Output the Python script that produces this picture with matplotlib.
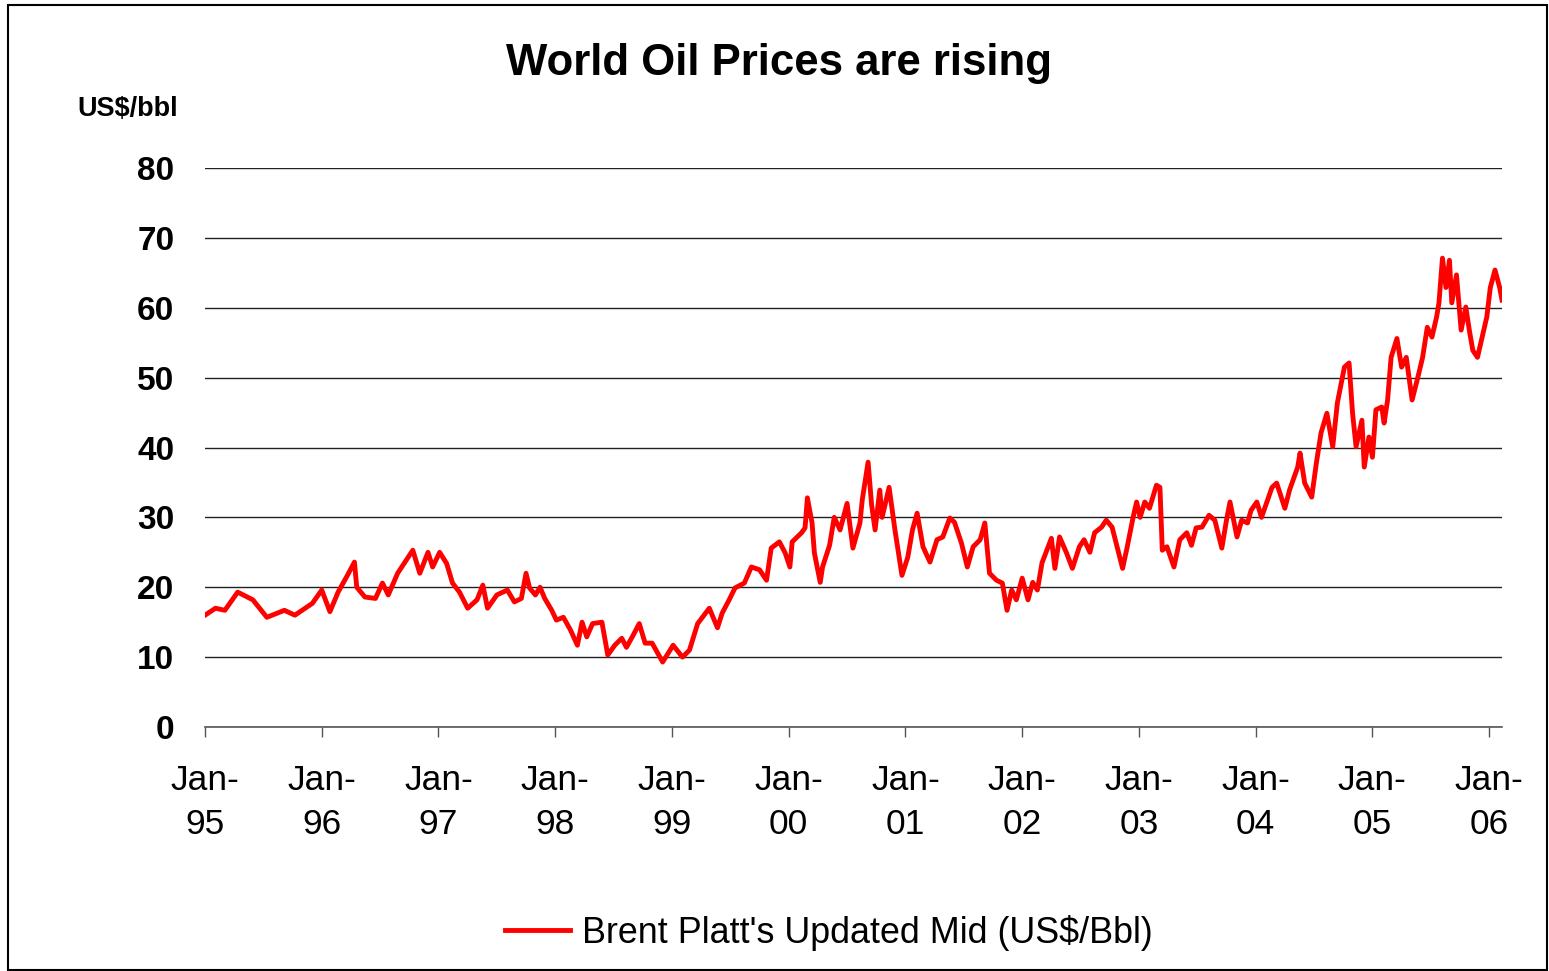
import matplotlib
matplotlib.use("Agg")
import matplotlib.pyplot as plt
from matplotlib.patches import Rectangle

plt.rcParams['font.family'] = ['Liberation Sans', 'DejaVu Sans']

# Brent price (decimal year, US$/bbl)
years = [
    1995.00, 1995.09, 1995.17, 1995.28, 1995.41, 1995.53, 1995.68, 1995.77, 1995.92,
    1996.00, 1996.07, 1996.14, 1996.22, 1996.28, 1996.30, 1996.37, 1996.46, 1996.52,
    1996.57, 1996.65, 1996.78, 1996.84, 1996.91, 1996.95, 1997.01, 1997.07, 1997.12,
    1997.18, 1997.25, 1997.33, 1997.38, 1997.42, 1997.50, 1997.59, 1997.65, 1997.71,
    1997.75, 1997.78, 1997.83, 1997.87, 1997.91, 1997.97, 1998.01, 1998.07, 1998.13,
    1998.19, 1998.23, 1998.27, 1998.32, 1998.40, 1998.45, 1998.51, 1998.57, 1998.61,
    1998.66, 1998.72, 1998.77, 1998.83, 1998.92, 1999.01, 1999.09, 1999.15, 1999.22,
    1999.32, 1999.39, 1999.43, 1999.49, 1999.54, 1999.62, 1999.68, 1999.75, 1999.81,
    1999.85, 1999.92, 1999.97, 2000.01, 2000.03, 2000.11, 2000.14, 2000.16, 2000.20,
    2000.22, 2000.27, 2000.29, 2000.35, 2000.39, 2000.44, 2000.50, 2000.55, 2000.61,
    2000.63, 2000.68, 2000.71, 2000.74, 2000.78, 2000.80, 2000.86, 2000.91, 2000.97,
    2001.02, 2001.06, 2001.10, 2001.15, 2001.21, 2001.27, 2001.32, 2001.38, 2001.42,
    2001.48, 2001.53, 2001.58, 2001.64, 2001.68, 2001.72, 2001.78, 2001.83, 2001.87,
    2001.91, 2001.95, 2002.00, 2002.05, 2002.09, 2002.13, 2002.17, 2002.25, 2002.28,
    2002.32, 2002.38, 2002.43, 2002.49, 2002.53, 2002.58, 2002.62, 2002.68, 2002.72,
    2002.77, 2002.82, 2002.86, 2002.90, 2002.95, 2002.98, 2003.01, 2003.05, 2003.09,
    2003.15, 2003.18, 2003.20, 2003.24, 2003.30, 2003.35, 2003.41, 2003.45, 2003.49,
    2003.54, 2003.60, 2003.65, 2003.71, 2003.75, 2003.78, 2003.84, 2003.88, 2003.93,
    2003.96, 2004.01, 2004.05, 2004.14, 2004.18, 2004.25, 2004.29, 2004.36, 2004.38,
    2004.42, 2004.48, 2004.52, 2004.56, 2004.61, 2004.66, 2004.70, 2004.76, 2004.80,
    2004.83, 2004.86, 2004.91, 2004.93, 2004.97, 2005.00, 2005.03, 2005.08, 2005.10,
    2005.13, 2005.16, 2005.21, 2005.25, 2005.29, 2005.32, 2005.34, 2005.39, 2005.43,
    2005.47, 2005.51, 2005.55, 2005.57, 2005.60, 2005.63, 2005.66, 2005.68, 2005.72,
    2005.76, 2005.80, 2005.83, 2005.86, 2005.90, 2005.94, 2005.98, 2006.01, 2006.05,
    2006.09, 2006.11,
]
prices = [
    16.0, 17.0, 16.7, 19.3, 18.2, 15.7, 16.7, 16.0, 17.7,
    19.6, 16.5, 19.3, 21.7, 23.6, 20.0, 18.6, 18.4, 20.6,
    18.9, 22.0, 25.3, 22.0, 25.0, 22.9, 25.0, 23.4, 20.6,
    19.3, 17.0, 18.2, 20.3, 17.0, 18.9, 19.6, 17.9, 18.4,
    22.0, 19.9, 18.9, 20.0, 18.4, 16.7, 15.3, 15.7, 13.9,
    11.7, 15.0, 12.9, 14.8, 15.0, 10.3, 11.7, 12.7, 11.4,
    12.9, 14.8, 12.0, 12.0, 9.3, 11.7, 10.0, 11.0, 14.8,
    17.0, 14.2, 16.3, 18.2, 19.9, 20.6, 22.9, 22.5, 21.0,
    25.6, 26.5, 24.9, 22.9, 26.5, 27.8, 28.5, 32.8, 29.2,
    24.9, 20.7, 22.9, 26.0, 30.0, 28.2, 32.0, 25.6, 29.2,
    32.5, 37.9, 31.8, 28.2, 33.9, 30.0, 34.3, 28.2, 21.7,
    24.3, 28.2, 30.6, 25.8, 23.6, 26.8, 27.2, 29.9, 29.3,
    26.3, 22.9, 25.8, 26.8, 29.2, 22.0, 21.0, 20.6, 16.7,
    19.6, 18.2, 21.3, 18.2, 20.7, 19.6, 23.5, 27.0, 22.7,
    27.2, 24.9, 22.7, 25.8, 26.8, 25.0, 27.8, 28.6, 29.6,
    28.6, 25.3, 22.7, 25.8, 30.0, 32.2, 30.0, 32.2, 31.3,
    34.6, 34.3, 25.3, 25.8, 22.9, 26.8, 27.8, 26.0, 28.5,
    28.6, 30.3, 29.6, 25.6, 29.6, 32.2, 27.2, 29.6, 29.2,
    31.0, 32.2, 30.0, 34.3, 34.9, 31.3, 33.9, 37.2, 39.2,
    34.9, 32.9, 37.8, 42.1, 44.9, 40.1, 46.4, 51.5, 52.1,
    44.9, 40.1, 43.9, 37.2, 41.5, 38.6, 45.4, 45.8, 43.5,
    46.8, 52.9, 55.6, 51.5, 52.9, 49.2, 46.8, 50.1, 52.9,
    57.2, 55.8, 58.7, 60.7, 67.1, 62.9, 66.8, 60.7, 64.7,
    56.8, 60.1, 56.8, 53.9, 52.9, 55.8, 58.7, 62.9, 65.4,
    62.9, 61.1,
]

tick_years = list(range(1995, 2007))
tick_labels = ["Jan-\n%02d" % (y % 100) for y in tick_years]
y_ticks = list(range(0, 90, 10))

fig = plt.figure(figsize=(15.49, 9.71), dpi=100)
W, H = 1549, 971

# outer chart frame
fig.patches.append(Rectangle((8 / W, 1 - 970 / H), 1539 / W, 965 / H,
                             transform=fig.transFigure, fill=False,
                             edgecolor='black', linewidth=1.5))

ax = fig.add_axes([205 / W, 1 - 727 / H, 1297 / W, 559 / H])
ax.plot(years, prices, color='#FF0000', linewidth=3.5,
        label="Brent Platt's Updated Mid (US$/Bbl)")

ax.set_xlim(1995.0, 2006.11)
ax.set_ylim(0, 80)
ax.set_yticks(y_ticks)
ax.set_yticklabels([str(v) for v in y_ticks], fontsize=24, fontweight='bold')
ax.set_xticks(tick_years)
ax.set_xticklabels(tick_labels, fontsize=25.5, linespacing=1.42)
ax.tick_params(axis='y', length=0, pad=22)
ax.tick_params(axis='x', length=7, width=1, color='#555555', pad=20)
ax.grid(axis='y', color='#222222', linewidth=1)
for s in ['left', 'right', 'top']:
    ax.spines[s].set_visible(False)
ax.spines['bottom'].set_color('#555555')
ax.spines['bottom'].set_linewidth(1.2)

fig.text(779 / W, 1 - 64 / H, "World Oil Prices are rising", fontsize=31.5,
         fontweight='bold', ha='center', va='center')
fig.text(178 / W, 1 - 109 / H, "US$/bbl", fontsize=19.5, fontweight='bold',
         ha='right', va='center')

fig.legend(loc='center', bbox_to_anchor=(829 / W, 1 - 933 / H), frameon=False,
           fontsize=25.8, handlelength=1.8, handletextpad=0.35)

fig.savefig("out.png", dpi=100)
